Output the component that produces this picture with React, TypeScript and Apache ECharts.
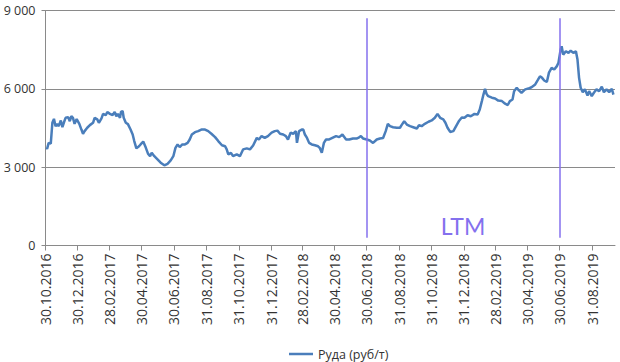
import React, { useEffect, useRef } from "react";
import * as echarts from "echarts";

const seriesName = "Руда (руб/т)";

const dates: string[] = [
  "2016-11-01","2016-11-02","2016-11-05","2016-11-09","2016-11-12","2016-11-15","2016-11-18","2016-11-21","2016-11-24","2016-11-28",
  "2016-12-01","2016-12-04","2016-12-07","2016-12-12","2016-12-15","2016-12-18","2016-12-21","2016-12-24","2016-12-28",
  "2017-01-02","2017-01-06","2017-01-09","2017-01-12","2017-01-17","2017-01-22","2017-01-28","2017-01-31",
  "2017-02-05","2017-02-08","2017-02-13","2017-02-16","2017-02-21","2017-02-24",
  "2017-03-01","2017-03-06","2017-03-10","2017-03-13","2017-03-16","2017-03-20","2017-03-22","2017-03-25","2017-03-27","2017-03-31",
  "2017-04-04","2017-04-09","2017-04-13","2017-04-16","2017-04-20","2017-04-25","2017-04-28",
  "2017-05-03","2017-05-08","2017-05-12","2017-05-16","2017-05-19","2017-05-24","2017-05-30",
  "2017-06-05","2017-06-12","2017-06-18","2017-06-24","2017-06-29",
  "2017-07-03","2017-07-07","2017-07-11","2017-07-16","2017-07-21","2017-07-26","2017-07-30",
  "2017-08-03","2017-08-09","2017-08-15","2017-08-21","2017-08-28",
  "2017-09-03","2017-09-09","2017-09-16","2017-09-22","2017-09-29",
  "2017-10-05","2017-10-08","2017-10-11","2017-10-16","2017-10-20","2017-10-27",
  "2017-11-02","2017-11-08","2017-11-15","2017-11-21","2017-11-27",
  "2017-12-04","2017-12-08","2017-12-13","2017-12-19","2017-12-25",
  "2018-01-01","2018-01-07","2018-01-12","2018-01-17","2018-01-23","2018-01-28",
  "2018-02-01","2018-02-06","2018-02-11","2018-02-16","2018-02-18","2018-02-22","2018-02-27",
  "2018-03-02","2018-03-05","2018-03-09","2018-03-13","2018-03-18","2018-03-24","2018-03-30",
  "2018-04-02","2018-04-06","2018-04-10","2018-04-14","2018-04-20","2018-04-26",
  "2018-05-03","2018-05-09","2018-05-15","2018-05-22","2018-05-28",
  "2018-06-04","2018-06-11","2018-06-14","2018-06-19","2018-06-23","2018-06-30",
  "2018-07-06","2018-07-12","2018-07-19","2018-07-25","2018-07-31",
  "2018-08-05","2018-08-09","2018-08-13","2018-08-19","2018-08-26",
  "2018-09-01","2018-09-04","2018-09-09","2018-09-14","2018-09-20","2018-09-26",
  "2018-10-03","2018-10-07","2018-10-12","2018-10-18","2018-10-25","2018-10-31",
  "2018-11-06","2018-11-11","2018-11-16","2018-11-22","2018-11-26","2018-11-30",
  "2018-12-05","2018-12-11","2018-12-17","2018-12-22","2018-12-27",
  "2019-01-01","2019-01-07","2019-01-13","2019-01-20","2019-01-26","2019-01-30",
  "2019-02-03","2019-02-06","2019-02-09","2019-02-12","2019-02-15","2019-02-22","2019-02-28",
  "2019-03-06","2019-03-13","2019-03-19","2019-03-24","2019-03-28",
  "2019-04-02","2019-04-05","2019-04-10","2019-04-14","2019-04-19","2019-04-26",
  "2019-05-02","2019-05-08","2019-05-15","2019-05-20","2019-05-24","2019-05-28",
  "2019-06-01","2019-06-06","2019-06-10","2019-06-15","2019-06-20","2019-06-25","2019-06-28",
  "2019-07-02","2019-07-04","2019-07-07","2019-07-12","2019-07-17","2019-07-21","2019-07-26","2019-07-31",
  "2019-08-03","2019-08-06","2019-08-09","2019-08-13","2019-08-17","2019-08-22","2019-08-25","2019-08-30",
  "2019-09-03","2019-09-08","2019-09-13","2019-09-18","2019-09-22","2019-09-27",
  "2019-10-02","2019-10-07","2019-10-10",
];

const values: number[] = [
  3740,3700,3930,3900,4700,4850,4570,4650,4570,4790,
  4530,4720,4890,4910,4760,4950,4890,4660,4840,
  4660,4440,4280,4380,4510,4610,4700,4890,
  4830,4700,4870,5040,4990,5110,
  5040,4990,5120,4950,5040,4890,5120,5150,4890,4700,
  4650,4440,4250,4000,3720,3800,3870,
  3980,3740,3520,3420,3550,3420,3300,
  3170,3070,3130,3260,3420,
  3740,3870,3770,3870,3870,3930,4060,
  4250,4340,4380,4440,4440,
  4380,4280,4150,4000,3840,
  3800,3680,3490,3550,3420,3490,
  3420,3680,3720,3680,3830,
  4120,4060,4190,4120,4190,
  4320,4380,4400,4280,4250,4190,
  4060,4320,4280,4380,3930,4380,4440,
  4440,4250,4120,3930,3870,3840,3800,
  3740,3550,3930,4060,4060,4120,
  4190,4150,4250,4060,4060,
  4100,4100,4120,4190,4100,4060,
  4020,3930,4060,4100,4120,
  4380,4660,4570,4530,4510,
  4510,4610,4760,4630,4570,4530,
  4480,4610,4570,4660,4740,4790,
  4890,5040,4890,4830,4700,4510,
  4350,4380,4600,4780,4900,
  4890,4990,4950,5040,5020,5210,
  5530,5780,6000,5800,5720,5660,5630,
  5550,5530,5430,5380,5530,
  5590,5910,6040,5940,5850,5980,
  6010,6060,6170,6340,6480,6420,
  6320,6260,6620,6800,6740,6870,7000,
  7500,7630,7310,7440,7380,7460,7380,7440,
  7120,6420,6040,5870,5980,5740,5910,5720,
  5850,5980,5910,6080,5870,5980,
  5870,6000,5780,
];

const axisStart = "2016-10-30";
const axisEnd = "2019-10-13";

const tickDates: string[] = [
  "2016-10-30","2016-12-30","2017-02-28","2017-04-30","2017-06-30","2017-08-31",
  "2017-10-31","2017-12-31","2018-02-28","2018-04-30","2018-06-30","2018-08-31",
  "2018-10-31","2018-12-31","2019-02-28","2019-04-30","2019-06-30","2019-08-31",
];

const ltmDates: string[] = ["2018-06-30", "2019-06-30"];
const ltmRange: number[] = [8700, 300];
const ltmLabel = "LTM";
const yTicks = { min: 0, max: 9000, interval: 3000 };

const ts = (s: string) => {
  const [y, m, d] = s.split("-").map(Number);
  return new Date(y, m - 1, d).getTime();
};
const pad = (n: number) => (n < 10 ? "0" + n : "" + n);
const fmtDate = (v: number) => {
  const d = new Date(v);
  return `${pad(d.getDate())}.${pad(d.getMonth() + 1)}.${d.getFullYear()}`;
};
const fmtNum = (v: number) => String(v).replace(/\B(?=(\d{3})+(?!\d))/g, " ");

export default function App() {
  const ref = useRef<HTMLDivElement>(null);
  useEffect(() => {
    if (!ref.current) return;
    const chart = echarts.init(ref.current, undefined, { renderer: "svg" });
    const font = "'Open Sans', sans-serif";
    const gray = "#8a8a8a";
    const blue = "#4a7ebb";
    const ticks = tickDates.map(ts);
    chart.setOption({
      animation: false,
      backgroundColor: "#ffffff",
      grid: { left: 45.5, right: 5, top: 10.5, bottom: 116.5, containLabel: false },
      legend: {
        data: [{ name: seriesName, icon: "rect" }],
        left: 284,
        top: 341,
        itemWidth: 24,
        itemHeight: 2.5,
        textStyle: { fontFamily: font, fontSize: 12.5, color: "#333", lineHeight: 16 },
      },
      xAxis: {
        type: "value",
        min: ts(axisStart),
        max: ts(axisEnd),
        scale: true,
        axisLine: { show: true, lineStyle: { color: gray, width: 1 } },
        axisTick: { show: true, customValues: ticks, length: 5, lineStyle: { color: gray } },
        axisLabel: {
          customValues: ticks,
          rotate: 90,
          margin: 8,
          fontFamily: font,
          fontSize: 14,
          color: "#333",
          hideOverlap: false,
          formatter: (v: number) => fmtDate(v),
        },
        splitLine: { show: false },
      },
      yAxis: {
        type: "value",
        min: yTicks.min,
        max: yTicks.max,
        interval: yTicks.interval,
        axisLine: { show: true, lineStyle: { color: gray, width: 1 } },
        axisTick: { show: true, length: 4, lineStyle: { color: gray } },
        axisLabel: {
          margin: 10,
          fontFamily: font,
          fontSize: 12.5,
          color: "#333",
          formatter: (v: number) => fmtNum(v),
        },
        splitLine: { show: true, lineStyle: { color: gray, width: 1 } },
      },
      graphic: [
        {
          type: "text",
          x: 463,
          y: 226,
          style: {
            text: ltmLabel,
            fontFamily: "Lato, sans-serif",
            fontSize: 23,
            fill: "#8470ee",
            textAlign: "center",
            textVerticalAlign: "middle",
          },
        },
      ],
      series: [
        {
          name: seriesName,
          type: "line",
          symbol: "none",
          showSymbol: false,
          data: dates.map((d, i) => [ts(d), values[i]]),
          lineStyle: { color: blue, width: 2.5 },
          itemStyle: { color: blue },
          markLine: {
            silent: true,
            symbol: "none",
            label: { show: false },
            lineStyle: { color: "#8470ee", width: 1.5, type: "solid" },
            data: ltmDates.map((d) => [
              { coord: [ts(d), ltmRange[0]] },
              { coord: [ts(d), ltmRange[1]] },
            ]),
          },
        },
      ],
    });
    return () => chart.dispose();
  }, []);
  return (
    <div
      ref={ref}
      style={{ position: "absolute", left: 0, top: 0, width: 620, height: 362 }}
    />
  );
}
